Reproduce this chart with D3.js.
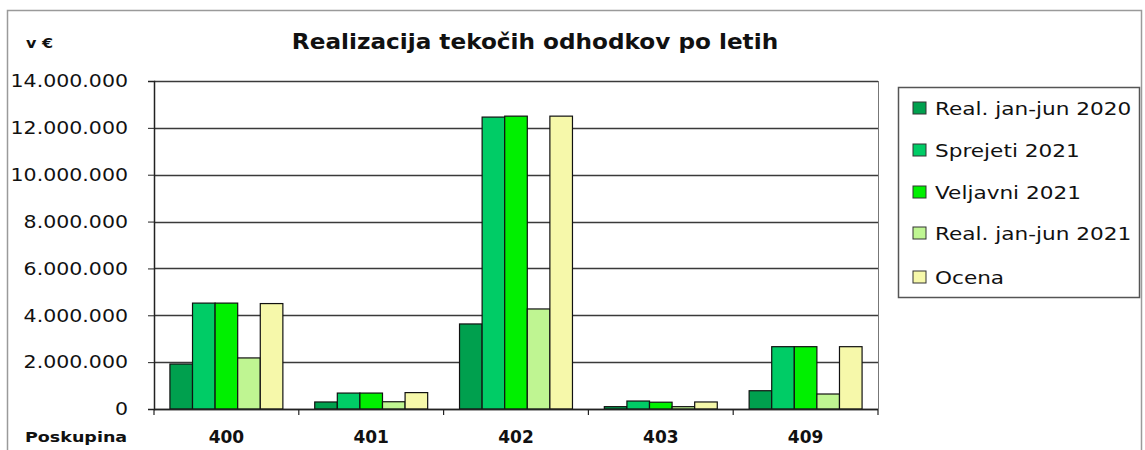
<!DOCTYPE html>
<html>
<head>
<meta charset="utf-8">
<script src="https://cdn.jsdelivr.net/npm/d3@7"></script>
<style>
  body { margin: 0; background: #fff; }
  svg text { font-family: "DejaVu Sans", Verdana, sans-serif; fill: #111; }
</style>
</head>
<body>
<svg id="chart" width="1145" height="450"></svg>
<script>
var W = 1145, H = 450;
var plotL = 154, plotR = 878, plotT = 81, plotB = 409;

// data
var categories = ['400', '401', '402', '403', '409'];
var seriesNames = ['Real. jan-jun 2020', 'Sprejeti 2021', 'Veljavni 2021', 'Real. jan-jun 2021', 'Ocena'];
var seriesColors = ['#00a04e', '#00cc66', '#00f000', '#bff592', '#f6f8aa'];
var real2020 = [1920000, 300000, 3630000, 100000, 780000];
var sprejeti2021 = [4520000, 680000, 12460000, 340000, 2660000];
var veljavni2021 = [4520000, 680000, 12500000, 290000, 2660000];
var real2021 = [2180000, 310000, 4270000, 100000, 640000];
var ocena = [4500000, 700000, 12500000, 300000, 2660000];
var yTicks = [0, 2000000, 4000000, 6000000, 8000000, 10000000, 12000000, 14000000];

var allSeries = [real2020, sprejeti2021, veljavni2021, real2021, ocena];

var loc = d3.formatLocale({decimal: ',', thousands: '.', grouping: [3], currency: ['', ' €']});
var fmt = loc.format(',.0f');

// the reference font is drawn wider than normal, widen text by factor k
function stretch(sel, k) {
  sel.each(function () {
    var w = this.getComputedTextLength();
    d3.select(this)
      .attr('textLength', w * k)
      .attr('lengthAdjust', 'spacingAndGlyphs');
  });
}

var svg = d3.select('#chart');

// outer frame
svg.append('rect')
  .attr('x', 7.5).attr('y', 10.5)
  .attr('width', 1134).attr('height', 445)
  .attr('fill', '#fff').attr('stroke', '#9a9a9a').attr('stroke-width', 1.5);

var x0 = d3.scaleBand()
  .domain(categories)
  .range([plotL, plotR])
  .paddingInner(0.22)
  .paddingOuter(0.11);
var x1 = d3.scaleBand()
  .domain(d3.range(seriesNames.length))
  .range([0, x0.bandwidth()]);
var y = d3.scaleLinear()
  .domain([0, 14000000])
  .range([plotB, plotT]);

// gridlines
svg.append('g')
  .selectAll('line')
  .data(yTicks)
  .join('line')
  .attr('x1', plotL).attr('x2', plotR)
  .attr('y1', d => Math.round(y(d)) + 0.5).attr('y2', d => Math.round(y(d)) + 0.5)
  .attr('stroke', '#3a3a3a').attr('stroke-width', 1.3);

// right edge of plot area
svg.append('line')
  .attr('x1', plotR + 0.5).attr('x2', plotR + 0.5)
  .attr('y1', plotT).attr('y2', plotB)
  .attr('stroke', '#777').attr('stroke-width', 1);

// bars
var groups = svg.append('g')
  .selectAll('g')
  .data(categories)
  .join('g')
  .attr('transform', d => 'translate(' + x0(d) + ',0)');

groups.selectAll('rect')
  .data((c, ci) => allSeries.map((s, si) => ({si: si, v: s[ci]})))
  .join('rect')
  .attr('x', d => x1(d.si))
  .attr('y', d => y(d.v))
  .attr('width', x1.bandwidth())
  .attr('height', d => plotB - y(d.v))
  .attr('fill', d => seriesColors[d.si])
  .attr('stroke', '#111')
  .attr('stroke-width', 1.2);

// y axis
var yAxis = svg.append('g')
  .attr('transform', 'translate(' + plotL + ',0)')
  .call(d3.axisLeft(y).tickValues(yTicks).tickFormat(fmt).tickSize(6).tickPadding(20));
yAxis.select('.domain').attr('stroke', '#222').attr('stroke-width', 1.5);
yAxis.selectAll('.tick line').attr('stroke', '#222');
yAxis.selectAll('text')
  .attr('font-size', 18)
  .attr('fill', '#111')
  .call(stretch, 1.14);

// x axis: line with boundary ticks
var xAxisG = svg.append('g');
xAxisG.append('line')
  .attr('x1', plotL).attr('x2', plotR)
  .attr('y1', plotB + 0.5).attr('y2', plotB + 0.5)
  .attr('stroke', '#222').attr('stroke-width', 1.5);
var bounds = categories.map(c => x0(c) - x0.step() * x0.paddingInner() / 2).concat([plotR]);
xAxisG.selectAll('line.b')
  .data(bounds)
  .join('line')
  .attr('class', 'b')
  .attr('x1', d => d).attr('x2', d => d)
  .attr('y1', plotB).attr('y2', plotB + 6)
  .attr('stroke', '#222').attr('stroke-width', 1.2);
xAxisG.selectAll('text')
  .data(categories)
  .join('text')
  .attr('x', d => x0(d) + x0.bandwidth() / 2)
  .attr('y', 443)
  .attr('text-anchor', 'middle')
  .attr('font-size', 17)
  .attr('font-weight', 'bold')
  .text(d => d);

svg.append('text')
  .attr('x', 25).attr('y', 442)
  .attr('font-size', 14)
  .attr('font-weight', 'bold')
  .text('Poskupina')
  .call(stretch, 1.25);

// title and unit
svg.append('text')
  .attr('x', 535).attr('y', 49)
  .attr('text-anchor', 'middle')
  .attr('font-size', 20.5)
  .attr('font-weight', 'bold')
  .text('Realizacija tekočih odhodkov po letih')
  .call(stretch, 1.13);

svg.append('text')
  .attr('x', 26).attr('y', 48)
  .attr('font-size', 14.5)
  .attr('font-weight', 'bold')
  .text('v €')
  .call(stretch, 1.1);

// legend
var legendY = [21, 63, 105, 146, 190];
var legend = svg.append('g').attr('transform', 'translate(898,87)');
legend.append('rect')
  .attr('x', 0.5).attr('y', 0.5)
  .attr('width', 241).attr('height', 210)
  .attr('fill', '#fff').attr('stroke', '#555').attr('stroke-width', 1.5);
var items = legend.selectAll('g.item')
  .data(seriesNames)
  .join('g')
  .attr('class', 'item')
  .attr('transform', (d, i) => 'translate(15,' + legendY[i] + ')');
items.append('rect')
  .attr('x', 0).attr('y', -6)
  .attr('width', 13).attr('height', 12)
  .attr('fill', (d, i) => seriesColors[i])
  .attr('stroke', '#333').attr('stroke-width', 1);
items.append('text')
  .attr('x', 22).attr('y', 7)
  .attr('font-size', 18)
  .text(d => d)
  .call(stretch, 1.2);
</script>
</body>
</html>
